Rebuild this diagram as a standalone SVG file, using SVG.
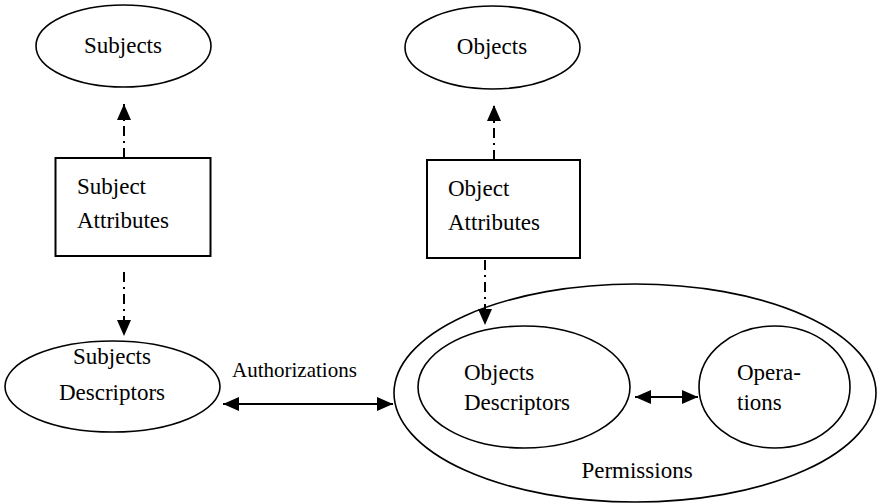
<svg xmlns="http://www.w3.org/2000/svg" width="878" height="504" viewBox="0 0 878 504">
  <defs>
    <style>
      .shape { fill: #fff; stroke: #000; stroke-width: 1.6; }
      .box { fill: #fff; stroke: #000; stroke-width: 2; }
      .lbl { font-family: 'Liberation Serif', 'DejaVu Serif', serif; font-size: 23px; fill: #000; }
      .small { font-size: 21px; }
      .mid { text-anchor: middle; }
      .dashdot { fill: none; stroke: #000; stroke-width: 2; stroke-dasharray: 10 5 2 5; }
      .solid { fill: none; stroke: #000; stroke-width: 2.2; }
    </style>
    <marker id="head" viewBox="0 0 16 14" refX="16" refY="7" markerWidth="16" markerHeight="14" markerUnits="userSpaceOnUse" orient="auto-start-reverse">
      <path d="M0,0 L16,7 L0,14 Z" fill="#000"/>
    </marker>
  </defs>

  <!-- outer permissions region, drawn first so inner ellipses sit on top -->
  <g id="permissions">
    <ellipse class="shape" cx="635" cy="393" rx="241" ry="109"/>
    <text class="lbl mid" x="637" y="478" font-family="Liberation Serif, DejaVu Serif, serif">Permissions</text>
  </g>

  <g id="subjects">
    <ellipse class="shape" cx="123.5" cy="46" rx="87.5" ry="41"/>
    <text class="lbl mid" x="123" y="53">Subjects</text>
  </g>

  <g id="objects">
    <ellipse class="shape" cx="492.5" cy="47.5" rx="87.5" ry="41.5"/>
    <text class="lbl mid" x="492" y="54">Objects</text>
  </g>

  <g id="subject-attributes">
    <rect class="box" x="55.5" y="158" width="155" height="98"/>
    <text class="lbl" x="77" y="194">Subject</text>
    <text class="lbl" x="77" y="228">Attributes</text>
  </g>

  <g id="object-attributes">
    <rect class="box" x="427" y="160" width="153" height="98"/>
    <text class="lbl" x="448" y="196">Object</text>
    <text class="lbl" x="448" y="230">Attributes</text>
  </g>

  <g id="subjects-descriptors">
    <ellipse class="shape" cx="112.5" cy="386.5" rx="107.5" ry="45.5"/>
    <text class="lbl mid" x="112" y="364">Subjects</text>
    <text class="lbl mid" x="112" y="400">Descriptors</text>
  </g>

  <g id="objects-descriptors">
    <ellipse class="shape" cx="524" cy="387" rx="106" ry="61"/>
    <text class="lbl" x="464" y="380">Objects</text>
    <text class="lbl" x="464" y="410">Descriptors</text>
  </g>

  <g id="operations">
    <ellipse class="shape" cx="774.5" cy="387" rx="75.5" ry="61"/>
    <text class="lbl" x="737" y="380">Opera-</text>
    <text class="lbl" x="737" y="410">tions</text>
  </g>

  <g id="connectors">
    <path class="dashdot" d="M124,158 L124,104" marker-end="url(#head)"/>
    <path class="dashdot" d="M494,160 L494,105" marker-end="url(#head)"/>
    <path class="dashdot" d="M124,272 L124,336" marker-end="url(#head)"/>
    <path class="dashdot" d="M485,260 L485,325" marker-end="url(#head)"/>
    <path class="solid" d="M223,404 L393,404" marker-start="url(#head)" marker-end="url(#head)"/>
    <text class="lbl small" x="232" y="377">Authorizations</text>
    <path class="solid" d="M635,397 L698,397" marker-start="url(#head)" marker-end="url(#head)"/>
  </g>
</svg>
